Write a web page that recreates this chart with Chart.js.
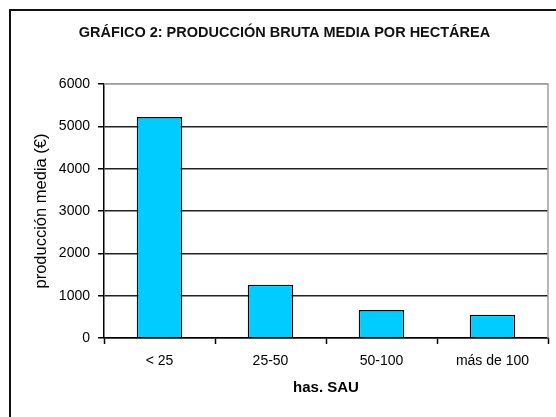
<!DOCTYPE html>
<html>
<head>
<meta charset="utf-8">
<script src="https://cdn.jsdelivr.net/npm/chart.js@4"></script>
<style>
  html, body { margin: 0; padding: 0; background: #fff; overflow: hidden; }
  #wrap { position: relative; width: 556px; height: 417px; }
</style>
</head>
<body>
<div id="wrap"><canvas id="c"></canvas></div>
<script>
const categories = ['< 25', '25-50', '50-100', 'más de 100'];
const values = [5220, 1255, 660, 550];
const yMin = 0;
const yMax = 6000;
const yStep = 1000;

const FONT = "'Liberation Sans', Arial, sans-serif";

const framePlugin = {
  id: 'frame',
  afterDraw(chart) {
    const { ctx, chartArea } = chart;
    ctx.save();
    ctx.strokeStyle = '#a0a0a0';
    ctx.lineWidth = 1.5;
    ctx.beginPath();
    ctx.moveTo(chartArea.left, chartArea.top);
    ctx.lineTo(chartArea.right, chartArea.top);
    ctx.lineTo(chartArea.right, chartArea.bottom);
    ctx.stroke();
    ctx.strokeStyle = '#111';
    ctx.lineWidth = 2;
    ctx.strokeRect(10, 10, 800, 800);
    ctx.restore();
  }
};

new Chart(document.getElementById('c'), {
  type: 'bar',
  data: {
    labels: categories,
    datasets: [{
      data: values,
      backgroundColor: '#00CCFF',
      borderColor: '#000',
      borderWidth: 1.5,
      barPercentage: 0.41,
      categoryPercentage: 1
    }]
  },
  options: {
    responsive: true,
    maintainAspectRatio: false,
    animation: false,
    layout: { padding: { left: 21, right: 8, top: 10, bottom: 0 } },
    plugins: {
      legend: { display: false },
      tooltip: { enabled: false },
      title: {
        display: true,
        text: 'GRÁFICO 2: PRODUCCIÓN BRUTA MEDIA POR HECTÁREA',
        color: '#111',
        font: { family: FONT, size: 14.5, weight: 'bold', lineHeight: 1.2 },
        padding: { top: 14.3, bottom: 42.3 }
      }
    },
    scales: {
      x: {
        grid: {
          offset: true,
          drawOnChartArea: false,
          drawTicks: true,
          tickLength: 6,
          tickColor: '#000',
          tickWidth: 1.5,
          color: '#000'
        },
        border: { display: true, color: '#000', width: 1.5 },
        ticks: {
          color: '#000',
          padding: 9,
          font: { family: FONT, size: 14 }
        },
        title: {
          display: true,
          text: 'has. SAU',
          color: '#000',
          font: { family: FONT, size: 15, weight: 'bold', lineHeight: 1.2 },
          padding: { top: 0, bottom: 20 }
        },
        afterFit(scale) { scale.height = 79; }
      },
      y: {
        min: yMin,
        max: yMax,
        ticks: {
          stepSize: yStep,
          color: '#000',
          padding: 8,
          font: { family: FONT, size: 14 },
          callback: (v) => String(v)
        },
        grid: {
          color: (ctx) => (ctx.tick && ctx.tick.value === yMax) ? '#a0a0a0' : '#222',
          lineWidth: 1.5,
          tickLength: 6,
          tickColor: '#000',
          tickWidth: 1.5
        },
        border: { display: true, color: '#000', width: 1.5 },
        title: {
          display: true,
          text: 'producción media (€)',
          color: '#000',
          font: { family: FONT, size: 16.5, lineHeight: 1.2 },
          padding: { top: 11, bottom: 0 }
        },
        afterFit(scale) { scale.width = 104 - 21; }
      }
    }
  },
  plugins: [framePlugin]
});
</script>
</body>
</html>
